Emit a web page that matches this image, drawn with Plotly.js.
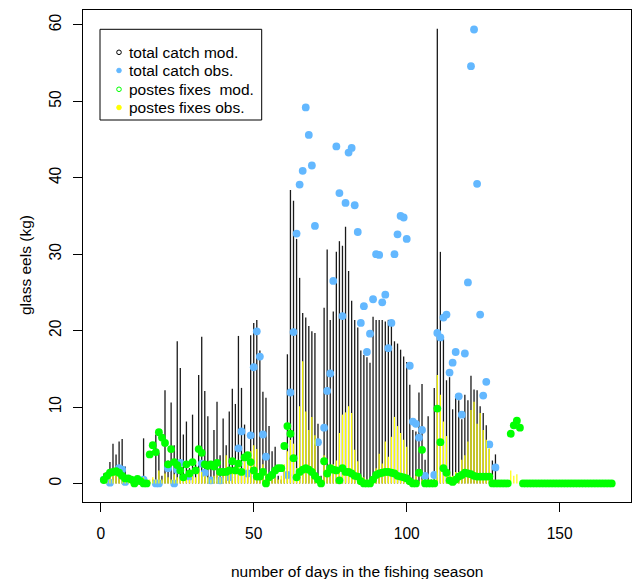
<!DOCTYPE html>
<html>
<head>
<meta charset="utf-8">
<script src="https://cdn.plot.ly/plotly-3.0.1.min.js"></script>
<style>html,body{margin:0;padding:0;background:#fff;}</style>
</head>
<body>
<div id="chart" style="width:632px;height:579px;"></div>
<script>
// day of the fishing season
const days = [1,2,3,4,5,6,7,8,9,10,11,12,13,14,15,16,17,18,19,20,21,22,23,24,25,26,27,28,29,30,
31,32,33,34,35,36,37,38,39,40,41,42,43,44,45,46,47,48,49,50,51,52,53,54,55,56,57,58,59,60,
61,62,63,64,65,66,67,68,69,70,71,72,73,74,75,76,77,78,79,80,81,82,83,84,85,86,87,88,89,90,
91,92,93,94,95,96,97,98,99,100,101,102,103,104,105,106,107,108,109,110,111,112,113,114,115,116,117,118,119,120,
121,122,123,124,125,126,127,128,129,130,131,132,133,134,135,136,137,138,139,140,141,142,143,144,145,146,147,148,149,150,
151,152,153,154,155,156,157,158,159,160,161,162,163,164,165,166,167];

// total catch, model (kg)
const totalCatchMod = [
1.3,0.5,2.8,5.2,3.8,5.5,5.8,2.2,0.5,0.3,
0.2,0.2,0.3,5.9,0.3,0.2,0.5,6.4,4.0,1.0,
12.2,3.0,10.6,5.0,18.6,15.1,6.4,8.1,2.0,9.0,
2.5,14.2,19.2,12.1,8.8,2.0,7.0,10.7,3.7,8.5,
5.0,9.4,12.4,10.4,19.3,12.5,7.7,2.5,19.4,21.0,
21.4,17.4,12.0,11.2,7.5,4.2,4.8,1.0,0.5,2.0,
16.9,38.4,37.0,32.0,26.9,22.3,21.7,20.6,19.9,19.7,
7.8,1.0,23.0,30.6,21.4,22.5,30.3,31.7,31.1,33.6,
27.8,23.9,21.4,20.4,17.4,16.8,16.5,15.8,21.8,21.4,
21.4,21.4,21.2,21.4,21.0,18.6,18.3,17.5,16.6,15.9,
12.9,7.0,6.8,11.9,13.0,3.1,8.8,0.5,12.5,59.5,
30.3,18.9,13.5,13.9,9.7,11.6,10.9,8.4,11.6,10.9,
14.1,12.3,12.2,10.1,9.2,7.6,4.5,3.0,3.8,0,
0,0,0,0,0,0,0,0,0,0,
0,0,0,0,0,0,0,0,0,0,
0,0,0,0,0,0,0,0,0,0,
0,0,0,0,0,0,0];

// total catch, observed (kg) - days with an observation
const obsDays = [1,3,6,7,8,14,18,19,22,24,25,26,29,33,34,36,39,42,45,46,48,49,50,51,52,53,54,56,
61,62,63,64,65,66,67,68,69,70,71,73,74,75,76,77,78,79,80,81,82,83,84,85,86,87,88,89,90,
91,92,93,94,95,96,97,98,99,100,101,102,103,104,105,106,109,110,111,112,113,114,115,116,117,118,119,120,
121,122,123,124,125,126,127,129];
const totalCatchObs = [0.5,0.1,2.0,1.8,0.2,0.5,0,0,2.0,0,1.8,2.7,0.9,2.6,1.4,0.4,0.4,0.8,4.6,6.8,1.3,6.3,15.2,19.9,16.6,6.4,3.5,1.1,
1.1,11.9,19.8,32.7,39.1,40.9,49.2,45.6,41.6,33.7,5.4,7.3,12.1,14.4,26.5,44.1,38.0,21.9,36.7,43.3,43.9,36.4,32.9,21.0,23.2,17.2,19.6,24.1,30.0,
29.9,23.7,24.7,17.7,21.0,30.0,32.6,35.0,34.8,32.0,15.4,8.1,7.8,6.0,7.0,1.0,1.1,19.7,19.1,21.7,22.1,14.5,15.8,17.2,11.4,9.0,17.0,26.3,
54.6,59.4,39.2,22.1,11.5,13.3,5.1,2.1];

// postes fixes, model (kg)
const postesFixesMod = [
0.45,1.0,1.4,1.5,1.6,1.4,1.0,0.65,0.65,0.5,
0.0,0.6,0.3,0.0,0.0,3.8,5.0,4.1,6.7,6.0,
5.3,2.5,4.5,2.8,2.4,1.7,0.8,2.5,1.3,2.8,
1.7,4.5,4.0,2.5,2.3,2.5,2.2,2.7,1.5,1.5,
1.5,1.7,2.9,1.7,2.6,1.5,3.4,3.7,2.8,1.7,
0.9,0.9,1.5,0.0,0.8,1.1,1.7,2.0,2.0,4.9,
7.5,6.5,3.3,0.8,1.5,1.8,2.0,1.8,1.5,1.0,
0.5,0.0,2.9,1.3,2.0,1.8,1.7,0.4,2.0,1.5,
1.5,1.3,1.0,0.9,0.3,0.0,0.0,0.0,0.5,1.1,
1.3,1.4,1.5,1.5,1.4,1.3,1.0,0.9,0.8,0.65,
0.3,0.0,0.0,1.4,4.4,0.0,0.0,0.0,0.0,9.8,
5.4,2.0,1.4,0.4,0.2,0.5,0.9,1.1,1.4,1.3,
1.2,1.0,0.9,0.9,0.9,0.9,0.9,0.0,0.0,0.0,
0,0,0,6.5,7.6,8.2,7.3,0,0,0,
0,0,0,0,0,0,0,0,0,0,
0,0,0,0,0,0,0,0,0,0,
0,0,0,0,0,0,0];

// postes fixes, observed (kg)
const postesFixesObs = [
0.5,1.0,1.5,1.8,2.0,1.8,1.5,1.0,0.8,0.5,
0.3,0.2,0.2,0.8,0.3,0.5,0.8,0.5,1.7,0.5,
1.3,0.8,0.5,1.2,0.8,0.6,0.5,0.8,0.5,1.0,
0.8,2.0,1.5,1.0,0.8,0.5,1.0,1.2,0.8,1.0,
3.7,2.0,1.5,2.2,2.5,1.5,3.3,3.7,4.2,5.0,
4.5,1.7,2.5,1.5,1.2,1.3,0.8,0.5,1.0,2.5,
4.2,5.7,5.2,2.0,10.1,16.0,9.4,7.0,8.7,6.3,
1.0,0.3,3.7,2.0,1.5,2.5,3.0,6.6,9.0,9.3,
10.1,9.2,4.4,2.9,1.0,0.8,0.5,0.5,1.0,2.0,
3.9,2.6,5.5,3.5,6.1,8.7,7.5,6.6,5.7,4.8,
1.0,0.5,1.0,0.3,0.5,0.2,0.5,0.2,0.5,14.2,
11.6,8.1,6.2,1.5,1.0,1.5,1.5,3.1,3.7,5.5,
9.6,10.7,7.8,9.2,7.0,5.7,4.6,0.5,0.3,0,
0,0,0,1.7,1.0,1.2,0,0,0,0,
0,0,0,0,0,0,0,0,0,0,
0,0,0,0,0,0,0,0,0,0,
0,0,0,0,0,0,0];

const xTicks = [0, 50, 100, 150];
const yTicks = [0, 10, 20, 30, 40, 50, 60];
const legendLabels = ["total catch mod.", "total catch obs.", "postes fixes\u00a0 mod.", "postes fixes obs."];
const xLabel = "number of days in the fishing season";
const yLabel = "glass eels (kg)";

// build vertical "h"-type segments from the data
function hLines(xs, ys) {
  const X = [], Y = [];
  for (let i = 0; i < xs.length; i++) { X.push(xs[i], xs[i], null); Y.push(0, ys[i], null); }
  return {X, Y};
}
const blk = hLines(days, totalCatchMod);
const yel = hLines(days, postesFixesObs);

const FONT = "Liberation Sans, Arial, Helvetica, sans-serif";

const traces = [
  {x: blk.X, y: blk.Y, type: "scatter", mode: "lines", line: {color: "#1a1a1a", width: 1.3}, hoverinfo: "skip", showlegend: false},
  {x: obsDays, y: totalCatchObs, type: "scatter", mode: "markers", marker: {color: "#63B8FF", size: 7.8, line: {width: 0}}, showlegend: false},
  {x: yel.X, y: yel.Y, type: "scatter", mode: "lines", line: {color: "#FFFF00", width: 1.2}, hoverinfo: "skip", showlegend: false},
  {x: days, y: postesFixesMod, type: "scatter", mode: "markers", marker: {color: "#00FF00", size: 7.8, line: {width: 0}}, showlegend: false}
];

// legend drawn by hand (R style)
const L = 83, W = 548, T = 10, H = 492;
const px = v => (v - L) / W, py = v => 1 - (v - T) / H;
const rowsY = [52.3, 70.5, 89.3, 107.5];
const symColors = ["#000000", "#63B8FF", "#00FF00", "#FFFF00"];
const symFilled = [false, true, false, true];

const shapes = [{type: "rect", xref: "paper", yref: "paper", x0: px(100), x1: px(261.7), y0: py(120), y1: py(29.3),
  line: {color: "#000000", width: 1}, fillcolor: "#ffffff", layer: "above"}];
const annotations = [];
for (let i = 0; i < legendLabels.length; i++) {
  shapes.push({type: "circle", xref: "paper", yref: "paper", xsizemode: "pixel", ysizemode: "pixel",
    xanchor: px(119), yanchor: py(rowsY[i]), x0: -2.3, x1: 2.3, y0: -2.3, y1: 2.3,
    line: {color: symColors[i], width: 1}, fillcolor: symFilled[i] ? symColors[i] : "rgba(0,0,0,0)", layer: "above"});
  annotations.push({xref: "paper", yref: "paper", x: px(127), y: py(rowsY[i]), xanchor: "left", yanchor: "middle",
    text: legendLabels[i], showarrow: false, font: {family: FONT, size: 15.5, color: "#000"}});
}
annotations.push({xref: "paper", yref: "paper", x: px(357), y: py(571), xanchor: "center", yanchor: "middle",
  text: xLabel, showarrow: false, font: {family: FONT, size: 15.5, color: "#000"}});
annotations.push({xref: "paper", yref: "paper", x: px(25), y: py(265), xanchor: "center", yanchor: "middle", textangle: -90,
  text: yLabel, showarrow: false, font: {family: FONT, size: 15.5, color: "#000"}});

const layout = {
  width: 632, height: 579,
  margin: {l: 83, r: 1, t: 10, b: 77, pad: 0},
  paper_bgcolor: "#ffffff", plot_bgcolor: "#ffffff",
  showlegend: false,
  font: {family: FONT, color: "#000"},
  xaxis: {range: [-5.8, 173.3], tickvals: xTicks, ticktext: xTicks.map(String), ticks: "outside", ticklen: 9, tickwidth: 1, tickcolor: "#000",
    showline: true, mirror: true, linecolor: "#000", linewidth: 1, showgrid: false, zeroline: false,
    tickfont: {family: FONT, size: 15.6, color: "#000"}, ticklabelstandoff: 8},
  yaxis: {range: [-2.43, 61.95], tickvals: yTicks, ticktext: yTicks.map(String), ticks: "outside", ticklen: 9, tickwidth: 1, tickcolor: "#000",
    tickangle: -90, showline: true, mirror: true, linecolor: "#000", linewidth: 1, showgrid: false, zeroline: false,
    tickfont: {family: FONT, size: 15.6, color: "#000"}, ticklabelstandoff: 6},
  shapes: shapes,
  annotations: annotations
};

Plotly.newPlot("chart", traces, layout, {staticPlot: true, displayModeBar: false});
</script>
</body>
</html>
